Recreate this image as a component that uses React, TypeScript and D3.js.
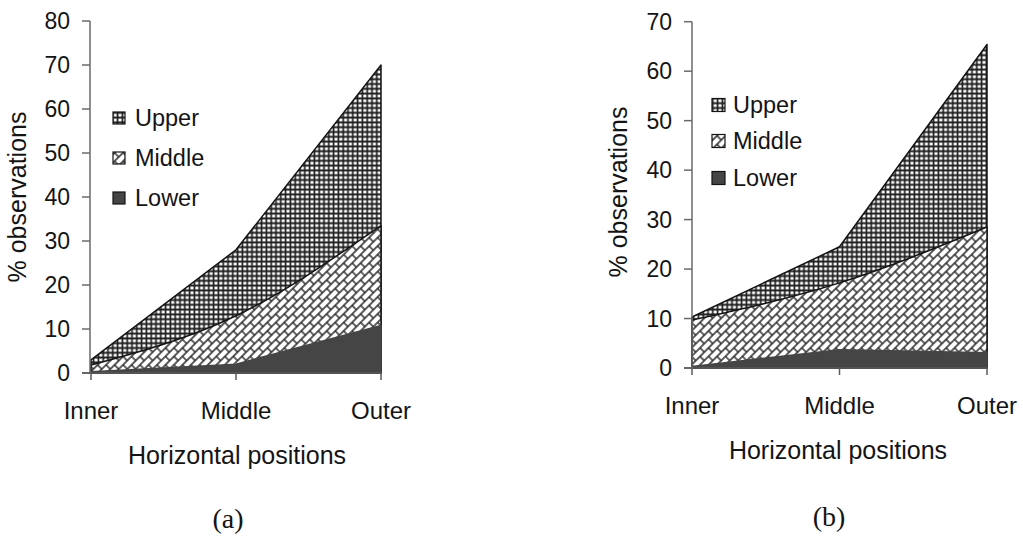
import React from 'react';
import * as d3 from 'd3';

// Category positions along the horizontal axis
const positions = ['Inner', 'Middle', 'Outer'];
// Stack order, bottom to top
const seriesKeys = ['Lower', 'Middle', 'Upper'];
// Legend order, top to bottom
const legendOrder = ['Upper', 'Middle', 'Lower'];

// Panel (a): % observations per vertical layer
const lowerA = [0.3, 2.0, 10.8];
const middleA = [1.5, 11.0, 22.7];
const upperA = [1.2, 15.0, 36.5];

// Panel (b): % observations per vertical layer
const lowerB = [0.3, 3.7, 3.1];
const middleB = [9.4, 13.5, 25.4];
const upperB = [0.6, 7.3, 36.9];

const yTicksA = [0, 10, 20, 30, 40, 50, 60, 70, 80];
const yTicksB = [0, 10, 20, 30, 40, 50, 60, 70];

const yTitle = '% observations';
const xTitle = 'Horizontal positions';

const SANS = '"Liberation Sans", Arial, Helvetica, sans-serif';
const SERIF = '"Liberation Serif", "Times New Roman", serif';
const INK = '#141414';

type Layout = {
  id: string;
  x0: number; x1: number; yBottom: number; yTop: number; axisX: number;
  tickLabelRight: number; xLabelBaseline: number;
  xTitleX: number; xTitleY: number;
  yTitleX: number; yTitleY: number;
  swatchX: number; legendTextX: number; legendYs: number[]; swatch: number;
  captionX: number; captionY: number; caption: string;
};

const layoutA: Layout = {
  id: 'a', x0: 91, x1: 381, yBottom: 373, yTop: 21, axisX: 90,
  tickLabelRight: 70, xLabelBaseline: 419,
  xTitleX: 237, xTitleY: 464, yTitleX: 26, yTitleY: 197,
  swatchX: 113, legendTextX: 135, legendYs: [118, 158, 198], swatch: 12,
  captionX: 228, captionY: 528, caption: '(a)',
};

const layoutB: Layout = {
  id: 'b', x0: 692, x1: 987, yBottom: 368, yTop: 21.7, axisX: 692,
  tickLabelRight: 672, xLabelBaseline: 414,
  xTitleX: 838, xTitleY: 459, yTitleX: 627, yTitleY: 192,
  swatchX: 712, legendTextX: 733, legendYs: [105, 141, 178], swatch: 13,
  captionX: 829, captionY: 526, caption: '(b)',
};

const fills: Record<string, string> = {
  Upper: 'url(#gridFill)',
  Middle: 'url(#brickFill)',
  Lower: '#454545',
};

function Panel({ lower, middle, upper, yMax, yTicks, L }: {
  lower: number[]; middle: number[]; upper: number[]; yMax: number; yTicks: number[]; L: Layout;
}) {
  const rows = positions.map((p, i) => ({ position: p, Lower: lower[i], Middle: middle[i], Upper: upper[i] }));
  const layers = d3.stack<any>().keys(seriesKeys)(rows);
  const x = d3.scalePoint<string>().domain(positions).range([L.x0, L.x1]);
  const y = d3.scaleLinear().domain([0, yMax]).range([L.yBottom, L.yTop]);

  // Each band is filled from the baseline up to its cumulative top, painted top layer first
  const bands = [...layers].reverse().map((layer) => {
    const area = d3.area<any>()
      .x((d) => x(d.data.position) as number)
      .y0(y(0))
      .y1((d) => y(d[1]))
      .curve(layer.key === 'Middle' ? d3.curveMonotoneX : d3.curveLinear);
    return { key: layer.key, d: area(layer) as string };
  });

  return (
    <g>
      {bands.map((b) => (
        <path key={b.key} d={b.d} fill={fills[b.key]}
          stroke={b.key === 'Lower' ? '#454545' : INK} strokeWidth={1.5} strokeLinejoin="round" />
      ))}

      {/* y axis */}
      <line x1={L.axisX} x2={L.axisX} y1={y(0)} y2={y(yMax)} stroke="#6a6a6a" strokeWidth={1.5} />
      {yTicks.map((t) => (
        <g key={t}>
          <line x1={L.axisX - 8} x2={L.axisX} y1={y(t)} y2={y(t)} stroke="#6a6a6a" strokeWidth={1.5} />
          <text x={L.tickLabelRight} y={y(t)} dy="0.36em" textAnchor="end"
            fontFamily={SANS} fontSize={23} fill={INK}>{t}</text>
        </g>
      ))}

      {/* x axis */}
      <line x1={L.axisX - 8} x2={L.x1} y1={y(0)} y2={y(0)} stroke="#5a5a5a" strokeWidth={1.5} />
      {positions.map((p) => (
        <g key={p}>
          <line x1={x(p)} x2={x(p)} y1={y(0)} y2={y(0) + 7} stroke="#5a5a5a" strokeWidth={1.5} />
          <text x={x(p)} y={L.xLabelBaseline} textAnchor="middle"
            fontFamily={SANS} fontSize={24} fill={INK}>{p}</text>
        </g>
      ))}

      <text x={L.xTitleX} y={L.xTitleY} textAnchor="middle" fontFamily={SANS} fontSize={25} fill={INK}>{xTitle}</text>
      <text transform={`translate(${L.yTitleX},${L.yTitleY}) rotate(-90)`} textAnchor="middle"
        fontFamily={SANS} fontSize={25} fill={INK}>{yTitle}</text>

      {/* legend */}
      {legendOrder.map((k, i) => (
        <g key={k}>
          <rect x={L.swatchX} y={L.legendYs[i] - L.swatch / 2} width={L.swatch} height={L.swatch}
            fill={fills[k]} stroke={INK} strokeWidth={1.2} />
          <text x={L.legendTextX} y={L.legendYs[i]} dy="0.36em" fontFamily={SANS} fontSize={23.5} fill={INK}>{k}</text>
        </g>
      ))}

      <text x={L.captionX} y={L.captionY} textAnchor="middle" fontFamily={SERIF} fontSize={28} fill={INK}>{L.caption}</text>
    </g>
  );
}

export default function App() {
  return (
    <svg width={1023} height={539} viewBox="0 0 1023 539"
      style={{ position: 'absolute', left: 0, top: 0, background: '#fff' }}>
      <defs>
        <pattern id="gridFill" width={4.8} height={4.8} patternUnits="userSpaceOnUse">
          <rect width={4.8} height={4.8} fill="#fff" />
          <path d="M2.4 0V4.8M0 2.4H4.8" stroke="#1c1c1c" strokeWidth={1.7} />
        </pattern>
        <pattern id="brickFill" width={12} height={12} patternUnits="userSpaceOnUse" patternTransform="rotate(-45)">
          <rect width={12} height={12} fill="#fff" />
          <path d="M0 3H12M0 9H12M3 3V9M9 9V12M9 0V3" stroke="#262626" strokeWidth={1.4} />
        </pattern>
      </defs>
      <rect width={1023} height={539} fill="#fff" />
      <Panel lower={lowerA} middle={middleA} upper={upperA} yMax={80} yTicks={yTicksA} L={layoutA} />
      <Panel lower={lowerB} middle={middleB} upper={upperB} yMax={70} yTicks={yTicksB} L={layoutB} />
    </svg>
  );
}
